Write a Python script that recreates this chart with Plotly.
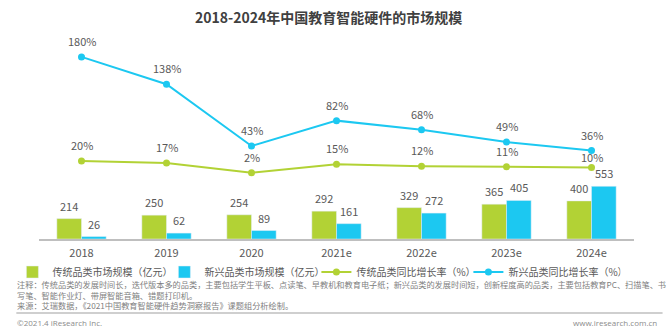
import plotly.graph_objects as go

years = ["2018", "2019", "2020", "2021e", "2022e", "2023e", "2024e"]
trad_size = [214, 250, 254, 292, 329, 365, 400]
new_size = [26, 62, 89, 161, 272, 405, 553]
trad_growth = [20, 17, 2, 15, 12, 11, 10]
new_growth = [180, 138, 43, 82, 68, 49, 36]

names = ["传统品类市场规模（亿元）", "新兴品类市场规模（亿元）",
         "传统品类同比增长率（%）", "新兴品类同比增长率（%）"]
title = "2018-2024年中国教育智能硬件的市场规模"
note_lines = [
    "注释：传统品类的发展时间长，迭代版本多的品类，主要包括学生平板、点读笔、早教机和教育电子纸；新兴品类的发展时间短，创新程度高的品类，主要包括教育PC、扫描笔、书",
    "写笔、智能作业灯、带屏智能音箱、错题打印机。",
    "来源：艾瑞数据，《2021中国教育智能硬件趋势洞察报告》课题组分析绘制。",
]
footer_left = "©2021.4 iResearch Inc."
footer_right = "www.iresearch.com.cn"

GREEN = "#b2d235"
BLUE = "#1cc8f1"
LABEL = "#595959"
FONT = "Noto Sans CJK SC, Open Sans, sans-serif"

W, H = 672, 331
ML, MR, MT, MB = 30, 38, 40, 92
PW, PH = W - ML - MR, H - MT - MB


def px_x(px):
    return (px - ML) / PW


def px_y(py):
    return (H - MB - py) / PH


fig = go.Figure()
fig.add_trace(go.Bar(x=years, y=trad_size, name=names[0], marker_color=GREEN))
fig.add_trace(go.Bar(x=years, y=new_size, name=names[1], marker_color=BLUE))
fig.add_trace(go.Scatter(x=years, y=trad_growth, name=names[2], yaxis="y2",
                         mode="lines+markers", line=dict(color=GREEN, width=2),
                         marker=dict(size=7, color=GREEN)))
fig.add_trace(go.Scatter(x=years, y=new_growth, name=names[3], yaxis="y2",
                         mode="lines+markers", line=dict(color=BLUE, width=2),
                         marker=dict(size=7, color=BLUE)))

annotations = []
for i, yr in enumerate(years):
    annotations.append(dict(x=i, y=trad_size[i], xref="x", yref="y", text=str(trad_size[i]),
                            showarrow=False, xshift=-12.5, yshift=13,
                            font=dict(size=11, color=LABEL)))
    annotations.append(dict(x=i, y=new_size[i], xref="x", yref="y", text=str(new_size[i]),
                            showarrow=False, xshift=12.5, yshift=13,
                            font=dict(size=11, color=LABEL)))
    annotations.append(dict(x=i, y=trad_growth[i], xref="x", yref="y2",
                            text=f"{trad_growth[i]}%", showarrow=False,
                            yshift=10 if i == len(years) - 1 else 16,
                            font=dict(size=11, color=LABEL)))
    annotations.append(dict(x=i, y=new_growth[i], xref="x", yref="y2",
                            text=f"{new_growth[i]}%", showarrow=False, yshift=16,
                            font=dict(size=11, color=LABEL)))

annotations.append(dict(x=px_x(324), y=px_y(17), xref="paper", yref="paper", text=f"<b>{title}</b>",
                        showarrow=False, xanchor="center", yanchor="middle",
                        font=dict(size=14, color="#404040")))
annotations.append(dict(x=px_x(6), y=px_y(294), xref="paper", yref="paper",
                        text="<br>".join(note_lines), align="left",
                        showarrow=False, xanchor="left", yanchor="middle",
                        font=dict(size=8.2, color="#808080")))
annotations.append(dict(x=px_x(6), y=px_y(322), xref="paper", yref="paper", text=footer_left,
                        showarrow=False, xanchor="left", yanchor="middle",
                        font=dict(size=8, color="#8c8c8c", family="Open Sans, sans-serif")))
annotations.append(dict(x=px_x(659), y=px_y(322), xref="paper", yref="paper", text=footer_right,
                        showarrow=False, xanchor="right", yanchor="middle",
                        font=dict(size=8, color="#8c8c8c", family="Open Sans, sans-serif")))

fig.update_layout(
    width=W, height=H,
    margin=dict(l=ML, r=MR, t=MT, b=MB, pad=0),
    paper_bgcolor="white", plot_bgcolor="white",
    font=dict(family=FONT, color=LABEL, size=11),
    barmode="group", bargap=0.42, bargroupgap=0,
    showlegend=True,
    legend=dict(orientation="h", x=px_x(3), y=px_y(272), xanchor="left", yanchor="middle",
                font=dict(size=10, color=LABEL), entrywidth=107, traceorder="normal",
                itemwidth=30, bgcolor="rgba(0,0,0,0)"),
    xaxis=dict(type="category", showline=True, linecolor="#bfbfbf", linewidth=2,
               showgrid=False, ticks="", tickfont=dict(size=11, color=LABEL),
               ticklabelstandoff=3, range=[-0.5, 6.5], fixedrange=True),
    yaxis=dict(range=[0, 2088], visible=False, showgrid=False, zeroline=False),
    yaxis2=dict(range=[-100, 206], overlaying="y", visible=False, showgrid=False,
                zeroline=False),
    annotations=annotations,
    shapes=[dict(type="line", xref="paper", yref="paper", x0=px_x(7), x1=px_x(663),
                 y0=px_y(313), y1=px_y(313), line=dict(color="#bfbfbf", width=1.5))],
)

fig.write_html("out.html")
